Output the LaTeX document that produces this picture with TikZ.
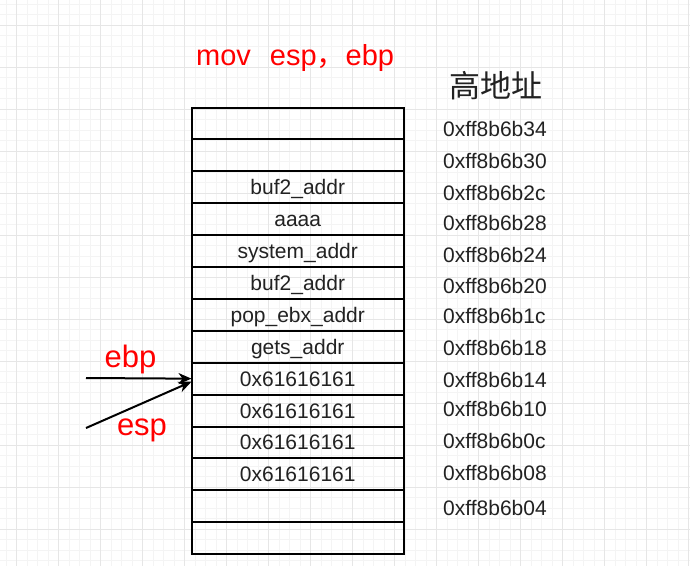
\documentclass[tikz,border=0pt]{standalone}
\usepackage{fontspec}
\setmainfont{Liberation Sans}
\newfontfamily\cjk{Noto Sans CJK SC}
\usetikzlibrary{arrows.meta}
\definecolor{gridminor}{HTML}{F4F4F4}
\definecolor{gridmajor}{HTML}{E6E6E6}
\definecolor{txtgray}{HTML}{222222}
\begin{document}
\begin{tikzpicture}[x=1pt,y=-1pt,
  cell/.style={draw,line width=2pt,minimum width=212.5pt,minimum height=31.9pt,
    inner sep=0pt,outer sep=0pt,font=\fontsize{21}{21}\selectfont,
    text height=15pt,text depth=0pt,text=txtgray},
  addr/.style={anchor=base west,inner sep=0pt,font=\fontsize{21}{21}\selectfont,text=txtgray},
  redlab/.style={anchor=base,inner sep=0pt,text=red,font=\fontsize{31}{31}\selectfont},
  ptr/.style={line width=2pt,-{Stealth[length=13pt,width=11pt,inset=4pt]}}]
\useasboundingbox (0,0) rectangle (690,566);
\fill[white] (0,0) rectangle (690,566);
\begin{scope}
\clip (0,0) rectangle (690,566);
\foreach \x in {-4.5,6,...,700} \draw[gridminor,line width=1pt] (\x,0) -- (\x,566);
\foreach \y in {4,14.5,...,580} \draw[gridminor,line width=1pt] (0,\y) -- (690,\y);
\foreach \x in {16.5,58.5,...,700} \draw[gridmajor,line width=1pt] (\x,0) -- (\x,566);
\foreach \y in {25,67,...,580} \draw[gridmajor,line width=1pt] (0,\y) -- (690,\y);
\end{scope}
% stack cells
\foreach \t [count=\i] in {\relax,\relax,buf2\_addr,aaaa,system\_addr,buf2\_addr,pop\_ebx\_addr,gets\_addr,0x61616161,0x61616161,0x61616161,0x61616161,\relax,\relax}
  \node[cell] (r\i) at (297.75,{107.5+31.9*(\i-0.5)}) {\t};
% addresses
\node[addr] (a1) at (443,136.7) {0xff8b6b34};
\node[addr] (a2) at (443,168.3) {0xff8b6b30};
\node[addr] (a3) at (443,200) {0xff8b6b2c};
\node[addr] (a4) at (443,230) {0xff8b6b28};
\node[addr] (a5) at (443,262) {0xff8b6b24};
\node[addr] (a6) at (443,293) {0xff8b6b20};
\node[addr] (a7) at (443,323) {0xff8b6b1c};
\node[addr] (a8) at (443,355) {0xff8b6b18};
\node[addr] (a9) at (443,387) {0xff8b6b14};
\node[addr] (a10) at (443,416) {0xff8b6b10};
\node[addr] (a11) at (443,448) {0xff8b6b0c};
\node[addr] (a12) at (443,480) {0xff8b6b08};
\node[addr] (a13) at (443,515) {0xff8b6b04};
% titles
\node[redlab,anchor=base west,font=\fontsize{29}{29}\selectfont] (mov) at (196,65) {mov\hspace{19pt}esp{\cjk ，}ebp};
\node[inner sep=0pt,text=txtgray,font=\cjk\fontsize{31}{31}\selectfont] (high) at (495.5,86) {高地址};
% pointers
\coordinate (ebpstart) at (86,378);
\coordinate (espstart) at (86,428);
\draw[ptr] (ebpstart) -- (r9.west);
\draw[ptr] (espstart) -- ([yshift=-3pt]r9.west);
\node[redlab] (ebplab) at (130.5,367) {ebp};
\node[redlab] (esplab) at (142,435) {esp};
\end{tikzpicture}
\end{document}
